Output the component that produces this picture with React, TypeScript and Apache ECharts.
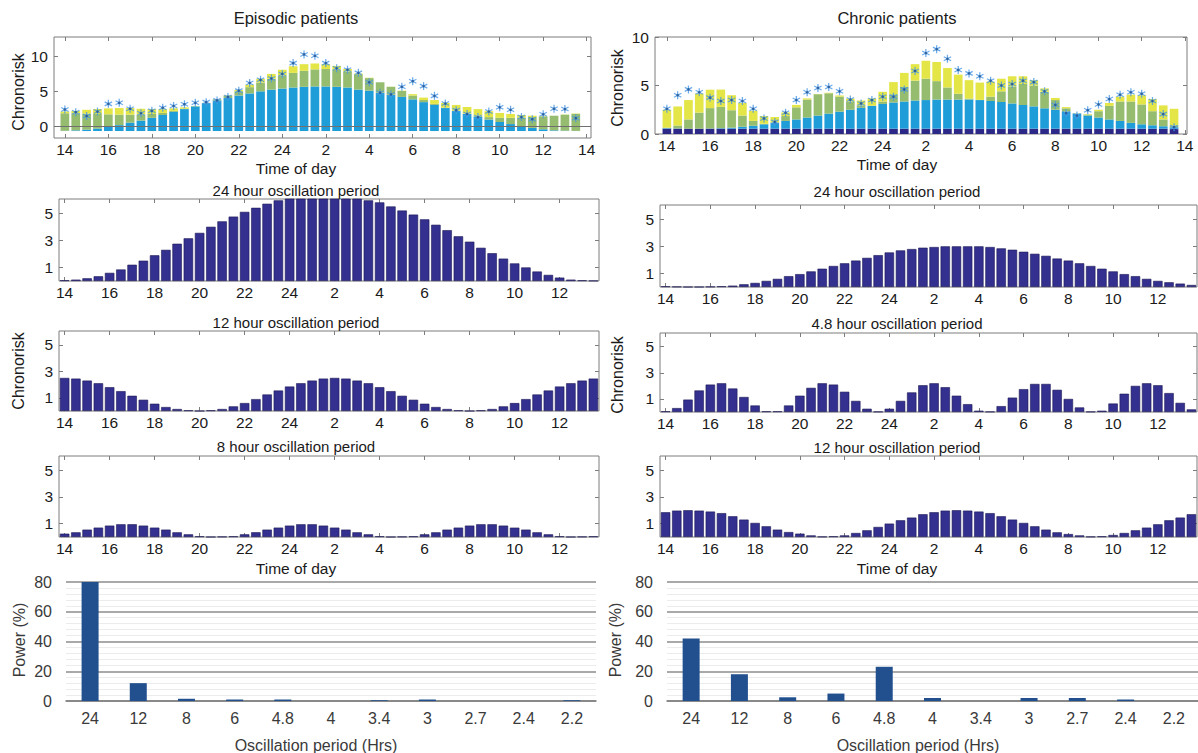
import React, { useEffect, useRef } from 'react';
import * as echarts from 'echarts';

// ---------- categories / ticks ----------
const timeSlots = ['14:00','14:30','15:00','15:30','16:00','16:30','17:00','17:30','18:00','18:30','19:00','19:30','20:00','20:30','21:00','21:30','22:00','22:30','23:00','23:30','24:00','00:30','01:00','01:30','02:00','02:30','03:00','03:30','04:00','04:30','05:00','05:30','06:00','06:30','07:00','07:30','08:00','08:30','09:00','09:30','10:00','10:30','11:00','11:30','12:00','12:30','13:00','13:30'];
const hourTicksFull = [14, 16, 18, 20, 22, 24, 26, 28, 30, 32, 34, 36, 38];
const hourTicksShort = [14, 16, 18, 20, 22, 24, 26, 28, 30, 32, 34, 36];
const hourTickLabels = ['14', '16', '18', '20', '22', '24', '2', '4', '6', '8', '10', '12', '14'];
const chronoriskTicks = [0, 5, 10];
const oscillationTicks = [1, 3, 5];

// ---------- Episodic patients ----------
const episodicBase = [-0.7,-0.7,-0.7,-0.7,-0.7,-0.7,-0.7,-0.7,-0.7,-0.7,-0.7,-0.7,-0.7,-0.7,-0.7,-0.7,-0.7,-0.7,-0.7,-0.7,-0.7,-0.7,-0.7,-0.7,-0.7,-0.7,-0.7,-0.7,-0.7,-0.7,-0.7,-0.7,-0.7,-0.7,-0.7,-0.7,-0.7,-0.7,-0.7,-0.7,-0.7,-0.7,-0.7,-0.7,-0.7,-0.7,-0.7,-0.7];
const episodic24h = [0.05,0.1,0.2,0.35,0.6,0.85,1.2,1.5,1.9,2.3,2.75,3.15,3.55,4.0,4.4,4.75,5.1,5.4,5.7,5.95,6.1,6.25,6.35,6.4,6.4,6.35,6.25,5.95,5.8,5.5,5.2,4.9,4.55,4.15,3.75,3.3,2.9,2.45,2.05,1.65,1.3,1.0,0.7,0.45,0.25,0.1,0.05,0.02];
const episodic12h = [2.5,2.45,2.3,2.1,1.8,1.5,1.15,0.85,0.55,0.3,0.15,0.05,0.0,0.05,0.15,0.35,0.6,0.9,1.25,1.55,1.85,2.1,2.3,2.45,2.5,2.45,2.3,2.1,1.8,1.5,1.15,0.85,0.55,0.3,0.15,0.05,0.0,0.05,0.15,0.35,0.6,0.9,1.25,1.55,1.85,2.1,2.3,2.45];
const episodic8h = [0.25,0.35,0.55,0.7,0.85,0.95,0.95,0.85,0.7,0.55,0.35,0.2,0.05,0.0,0.02,0.05,0.2,0.35,0.55,0.7,0.85,0.95,0.95,0.85,0.7,0.55,0.35,0.2,0.05,0.0,0.02,0.05,0.2,0.35,0.55,0.7,0.85,0.95,0.95,0.85,0.7,0.55,0.35,0.2,0.05,0.0,0.02,0.05];
const episodicObserved = [2.4,2.0,1.45,2.1,3.2,3.35,2.5,1.85,2.2,2.65,2.9,3.15,3.35,3.45,3.7,4.2,5.1,6.2,6.65,6.85,7.5,9.05,10.3,10.1,9.05,8.3,8.1,7.65,6.3,4.8,4.55,5.65,6.45,5.75,4.35,3.25,2.3,1.75,1.3,2.1,2.7,2.35,1.3,1.0,1.7,2.5,2.45,1.15];

// ---------- Chronic patients ----------
const chronicBase = [0.55,0.55,0.55,0.55,0.55,0.55,0.55,0.55,0.55,0.55,0.55,0.55,0.55,0.55,0.55,0.55,0.55,0.55,0.55,0.55,0.55,0.55,0.55,0.55,0.55,0.55,0.55,0.55,0.55,0.55,0.55,0.55,0.55,0.55,0.55,0.55,0.55,0.55,0.55,0.55,0.55,0.55,0.55,0.55,0.55,0.55,0.55,0.55];
const chronic24h = [0.05,0.02,0,0,0.02,0.05,0.1,0.2,0.3,0.45,0.6,0.8,0.95,1.15,1.35,1.55,1.75,1.95,2.15,2.35,2.55,2.7,2.8,2.9,2.95,3.0,3.0,3.0,3.0,2.95,2.85,2.75,2.6,2.45,2.3,2.1,1.95,1.75,1.55,1.35,1.15,0.95,0.8,0.6,0.45,0.35,0.25,0.15];
const chronic4_8h = [0.05,0.3,0.95,1.65,2.1,2.2,1.8,1.15,0.5,0.05,0.05,0.5,1.25,1.85,2.2,2.1,1.55,0.85,0.25,0.02,0.25,0.85,1.5,2.05,2.2,1.9,1.25,0.6,0.1,0.02,0.45,1.1,1.75,2.15,2.15,1.7,1.0,0.35,0.02,0.1,0.65,1.4,2.0,2.2,2.05,1.45,0.7,0.2];
const chronic12h = [1.85,1.97,2.0,1.97,1.9,1.78,1.55,1.3,1.05,0.8,0.55,0.37,0.25,0.12,0.02,0.05,0.12,0.3,0.5,0.75,1.0,1.25,1.45,1.7,1.85,1.97,2.0,1.97,1.9,1.78,1.55,1.3,1.05,0.8,0.55,0.35,0.22,0.12,0.02,0.05,0.15,0.3,0.5,0.7,0.95,1.25,1.45,1.7];
const chronicObserved = [2.6,4.0,4.6,4.3,3.75,3.4,3.5,3.4,2.6,1.6,1.25,2.2,3.5,4.3,4.75,4.85,4.4,3.55,3.15,3.5,3.85,3.85,4.6,6.5,8.35,8.75,7.75,6.6,6.25,5.95,5.5,5.0,5.15,5.5,5.35,4.4,3.0,2.15,1.9,2.45,3.05,3.6,4.05,4.3,4.15,3.4,2.05,0.7];

// ---------- Power spectra ----------
const periods = ['24', '12', '8', '6', '4.8', '4', '3.4', '3', '2.7', '2.4', '2.2'];
const powerEpisodic = [80, 12, 1.5, 1, 1, 0, 0.5, 1, 0, 0, 0.5];
const powerChronic = [42, 18, 2.5, 5, 23, 2, 0, 2, 2, 1, 0];

// ---------- styles ----------
const FONT = '"Liberation Sans", Arial, Helvetica, sans-serif';
const TXT = '#1a1a1a';
const GRAYTXT = '#3a3a3a';
const BOXC = '#7d7d7d';
const BLUE = '#1f9dd9';
const GREEN = '#95bc6f';
const YELLOW = '#e3e646';
const NAVY = '#2b2887';
const OSC = '#34308f';
const STARC = '#4a98e6';
const STAR_CORE = '#1f4f8c';
const POWER = '#22508e';
const TICK_FS = 15.5;
const STAR = 'path://M-0.15,-1L0.15,-1L0.15,1L-0.15,1Z M0.791,-0.63L0.941,-0.37L-0.791,0.63L-0.941,0.37Z M0.941,0.37L0.791,0.63L-0.941,-0.37L-0.791,-0.63Z';

function hourLabel(v: number): string {
  const i = hourTicksFull.indexOf(Math.round(v));
  return i >= 0 ? hourTickLabels[i] : '';
}

function buildOption() {
  const grid: any[] = [];
  const xAxis: any[] = [];
  const yAxis: any[] = [];
  const series: any[] = [];
  const graphic: any[] = [];

  const tick = (vals: number[]) => ({ show: true, inside: true, length: 4, customValues: vals, lineStyle: { color: BOXC } });
  const lbl = (vals: number[], extra: any = {}) => ({ show: true, customValues: vals, color: TXT, fontSize: TICK_FS, fontFamily: FONT, ...extra });

  function addPanel(box: number[], xr: number[], yr: number[], xTicks: number[], yTicks: number[]) {
    const [l, t, w, h] = box;
    const ga = grid.length;
    grid.push({ left: l, top: t, width: w, height: h, show: true, borderColor: BOXC, borderWidth: 1, backgroundColor: '#fff' });
    const xa = xAxis.length;
    xAxis.push({ type: 'value', gridIndex: ga, min: xr[0], max: xr[1], position: 'bottom',
      axisLine: { show: false, onZero: false }, splitLine: { show: false },
      axisTick: tick(xTicks), axisLabel: lbl(xTicks, { formatter: hourLabel, margin: 3 }) });
    xAxis.push({ type: 'value', gridIndex: ga, min: xr[0], max: xr[1], position: 'top',
      axisLine: { show: false, onZero: false }, splitLine: { show: false },
      axisTick: tick(xTicks), axisLabel: { show: false } });
    const ya = yAxis.length;
    yAxis.push({ type: 'value', gridIndex: ga, min: yr[0], max: yr[1], position: 'left',
      axisLine: { show: false, onZero: false }, splitLine: { show: false },
      axisTick: tick(yTicks), axisLabel: lbl(yTicks, { margin: 6 }) });
    yAxis.push({ type: 'value', gridIndex: ga, min: yr[0], max: yr[1], position: 'right',
      axisLine: { show: false, onZero: false }, splitLine: { show: false },
      axisTick: tick(yTicks), axisLabel: { show: false } });
    // inner grid that holds the half-hour bars (category slots 13.75 .. 37.75 h)
    const pxPerHr = w / (xr[1] - xr[0]);
    const gb = grid.length;
    grid.push({ left: l + (13.75 - xr[0]) * pxPerHr, top: t, width: 24 * pxPerHr, height: h, show: false });
    const xb = xAxis.length;
    xAxis.push({ type: 'category', gridIndex: gb, data: timeSlots, boundaryGap: true, show: false });
    const yb = yAxis.length;
    yAxis.push({ type: 'value', gridIndex: gb, min: yr[0], max: yr[1], show: false });
    return { xa, ya, xb, yb };
  }

  const stackBar = (ax: any, stack: string, data: number[], color: string) => ({
    type: 'bar', xAxisIndex: ax.xb, yAxisIndex: ax.yb, stack, stackStrategy: 'all',
    barWidth: '80%', data, itemStyle: { color }, silent: true,
  });
  const starSeries = (ax: any, data: number[]) => [
    { type: 'scatter', xAxisIndex: ax.xb, yAxisIndex: ax.yb, data, symbol: STAR, symbolSize: 8,
      itemStyle: { color: STARC }, z: 5, silent: true },
    { type: 'scatter', xAxisIndex: ax.xb, yAxisIndex: ax.yb, data, symbol: 'circle', symbolSize: 2.6,
      itemStyle: { color: STAR_CORE }, z: 6, silent: true },
  ];
  const oscBars = (ax: any, data: number[]) => ({
    type: 'bar', xAxisIndex: ax.xb, yAxisIndex: ax.yb, barWidth: '84%', data,
    itemStyle: { color: OSC, borderColor: '#1d1a55', borderWidth: 0.6 }, silent: true,
  });

  // Top-left: episodic
  const tl = addPanel([54, 37, 537, 101], [13.5, 38.2], [-1.7, 12.8], hourTicksFull, chronoriskTicks);
  series.push(stackBar(tl, 'ep', episodicBase, 'rgba(0,0,0,0)'));
  series.push(stackBar(tl, 'ep', episodic24h, BLUE));
  series.push(stackBar(tl, 'ep', episodic12h, GREEN));
  series.push(stackBar(tl, 'ep', episodic8h, YELLOW));
  series.push({ type: 'line', xAxisIndex: tl.xa, yAxisIndex: tl.ya, data: [], z: 4, silent: true,
    markLine: { silent: true, symbol: 'none', label: { show: false }, animation: false,
      lineStyle: { color: '#707070', width: 1, type: 'solid' }, data: [{ yAxis: 0 }] } });
  series.push(...starSeries(tl, episodicObserved));

  // Top-right: chronic
  const tr = addPanel([655, 37, 532, 97], [13.45, 38.1], [0, 10], hourTicksFull, chronoriskTicks);
  series.push(stackBar(tr, 'ch', chronicBase, NAVY));
  series.push(stackBar(tr, 'ch', chronic24h, BLUE));
  series.push(stackBar(tr, 'ch', chronic4_8h, GREEN));
  series.push(stackBar(tr, 'ch', chronic12h, YELLOW));
  series.push(...starSeries(tr, chronicObserved));

  // Oscillation component panels
  const OX = [13.75, 37.75];
  const OY = [0, 6.05];
  const l2 = addPanel([59, 199, 540, 82], OX, OY, hourTicksShort, oscillationTicks);
  series.push(oscBars(l2, episodic24h));
  const r2 = addPanel([660, 205, 537, 82], OX, OY, hourTicksShort, oscillationTicks);
  series.push(oscBars(r2, chronic24h));
  const l3 = addPanel([59, 331, 540, 80], OX, OY, hourTicksShort, oscillationTicks);
  series.push(oscBars(l3, episodic12h));
  const r3 = addPanel([660, 333, 537, 79], OX, OY, hourTicksShort, oscillationTicks);
  series.push(oscBars(r3, chronic4_8h));
  const l4 = addPanel([59, 456, 540, 81], OX, OY, hourTicksShort, oscillationTicks);
  series.push(oscBars(l4, episodic8h));
  const r4 = addPanel([660, 456, 537, 81], OX, OY, hourTicksShort, oscillationTicks);
  series.push(oscBars(r4, chronic12h));

  // Power spectra
  const addPower = (left: number, width: number, data: number[]) => {
    const g = grid.length;
    grid.push({ left, top: 582, width, height: 119 });
    const xi = xAxis.length;
    xAxis.push({ type: 'category', gridIndex: g, data: periods, boundaryGap: true,
      axisLine: { show: true, lineStyle: { color: '#7f7f7f', width: 1.5 } }, axisTick: { show: false },
      axisLabel: { color: GRAYTXT, fontSize: 16, fontFamily: FONT, margin: 9, interval: 0 } });
    const yi = yAxis.length;
    yAxis.push({ type: 'value', gridIndex: g, min: 0, max: 80, interval: 20,
      axisLine: { show: false }, axisTick: { show: false },
      axisLabel: { color: GRAYTXT, fontSize: 16, fontFamily: FONT, margin: 14 },
      splitLine: { show: true, lineStyle: { color: '#8c8c8c', width: 1.5 } },
      minorTick: { show: false, splitNumber: 5 },
      minorSplitLine: { show: true, lineStyle: { color: '#ececec', width: 1 } } });
    series.push({ type: 'bar', xAxisIndex: xi, yAxisIndex: yi, data, barWidth: 17,
      itemStyle: { color: POWER }, silent: true });
  };
  addPower(66, 530, powerEpisodic);
  addPower(667, 531, powerChronic);

  // Texts
  const text = (t: string, x: number, y: number, size: number, vertical = false, color = TXT) => ({
    type: 'text', x, y, rotation: vertical ? Math.PI / 2 : 0, z: 100, silent: true,
    style: { text: t, fill: color, fontSize: size, fontFamily: FONT, textAlign: 'center', textVerticalAlign: 'middle' },
  });
  graphic.push(text('Episodic patients', 296, 18, 16.5));
  graphic.push(text('Chronic patients', 897, 18, 16.5));
  graphic.push(text('24 hour oscillation period', 296, 190, 15));
  graphic.push(text('24 hour oscillation period', 897, 191, 15));
  graphic.push(text('12 hour oscillation period', 296, 322, 15));
  graphic.push(text('4.8 hour oscillation period', 897, 323, 15));
  graphic.push(text('8 hour oscillation period', 296, 446, 15));
  graphic.push(text('12 hour oscillation period', 897, 447, 15));
  graphic.push(text('Time of day', 296, 168, 15.5));
  graphic.push(text('Time of day', 897, 164, 15.5));
  graphic.push(text('Time of day', 296, 568, 15.5));
  graphic.push(text('Time of day', 897, 568, 15.5));
  graphic.push(text('Chronorisk', 18, 92, 16, true));
  graphic.push(text('Chronorisk', 617, 88, 16, true));
  graphic.push(text('Chronorisk', 18, 371, 16, true));
  graphic.push(text('Chronorisk', 617, 375, 16, true));
  graphic.push(text('Power (%)', 19, 640, 16, true, GRAYTXT));
  graphic.push(text('Power (%)', 615, 640, 16, true, GRAYTXT));
  graphic.push(text('Oscillation period (Hrs)', 316, 745, 16, false, GRAYTXT));
  graphic.push(text('Oscillation period (Hrs)', 918, 745, 16, false, GRAYTXT));

  return { animation: false, backgroundColor: '#ffffff', textStyle: { fontFamily: FONT }, grid, xAxis, yAxis, series, graphic };
}

export default function App() {
  const ref = useRef<HTMLDivElement>(null);
  useEffect(() => {
    if (!ref.current) return;
    const chart = echarts.init(ref.current, null, { renderer: 'svg' });
    chart.setOption(buildOption() as any);
    return () => chart.dispose();
  }, []);
  return <div ref={ref} style={{ position: 'absolute', left: 0, top: 0, width: 1198, height: 753 }} />;
}
